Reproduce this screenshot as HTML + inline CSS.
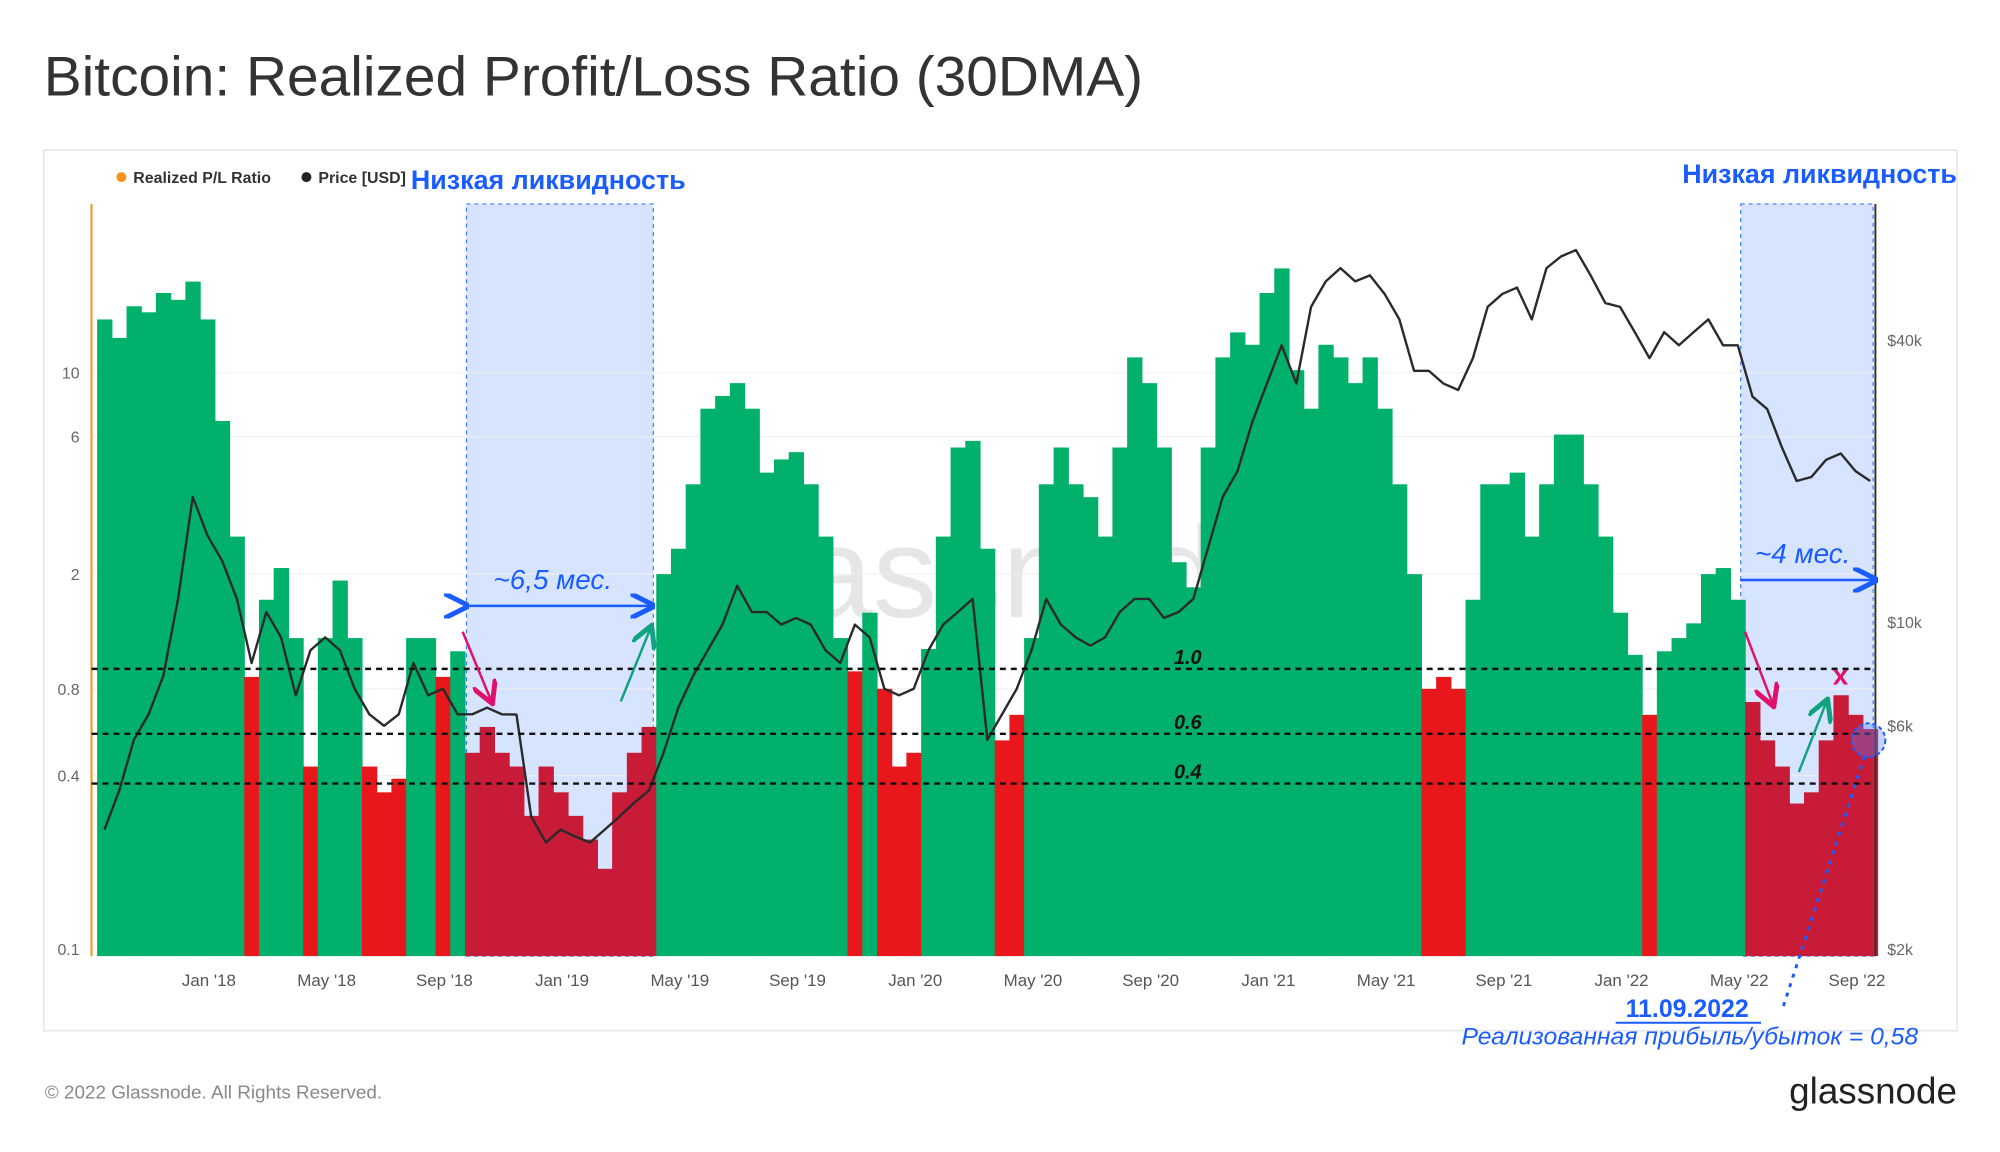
<!DOCTYPE html>
<html><head><meta charset="utf-8"><style>
body{margin:0;background:#fff;}
svg{display:block;font-family:"Liberation Sans","DejaVu Sans",sans-serif;}
</style></head><body>
<svg id="c" width="2000" height="1152" viewBox="0 0 2000 1152" xmlns="http://www.w3.org/2000/svg">
<g transform="scale(0.9949)">
<text x="44" y="96" font-size="56" fill="#333" textLength="1105" lengthAdjust="spacingAndGlyphs">Bitcoin: Realized Profit/Loss Ratio (30DMA)</text>
<rect x="44" y="151" width="1923" height="885" fill="#fff" stroke="#e6e6e6" stroke-width="1.5"/>
<text x="1000" y="620" font-size="130" fill="#e6e6e6" text-anchor="middle">glassnode</text>
<g id="shade"></g>
<g id="grid"></g>
<g id="bars"></g>
<g id="price"></g>
<g id="axes"></g>
<g id="ann"></g>
<g>
<circle cx="122" cy="178" r="5" fill="#f7931a"/>
<text x="134" y="184" font-size="16" font-weight="bold" fill="#333">Realized P/L Ratio</text>
<circle cx="308" cy="178" r="5" fill="#222"/>
<text x="320" y="184" font-size="16" font-weight="bold" fill="#333">Price [USD]</text>
</g>
<text x="413" y="190" font-size="27" font-weight="bold" fill="#1a5cff">Низкая ликвидность</text>
<text x="1967" y="184" font-size="27" font-weight="bold" fill="#1a5cff" text-anchor="end">Низкая ликвидность</text>
<text x="45" y="1104" font-size="19" fill="#888">© 2022 Glassnode. All Rights Reserved.</text>
<text x="1967" y="1109" font-size="37" fill="#222" text-anchor="end">glassnode</text>
</g>
</svg>
<script>
const ratio=[15.3,13.2,17,16.2,18.9,17.9,20.7,15.3,6.8,2.7,
0.88,1.63,2.1,1.2,0.43,1.2,1.9,1.2,0.43,0.35,
0.39,1.2,1.2,0.88,1.08,0.48,0.59,0.48,0.43,0.29,
0.43,0.35,0.29,0.24,0.19,0.35,0.48,0.59,2.0,2.45,
4.1,7.5,8.3,9.2,7.5,4.5,5.0,5.3,4.1,2.7,
1.2,0.92,1.47,0.8,0.43,0.48,1.1,2.7,5.5,5.8,
2.45,0.53,0.65,1.2,4.1,5.5,4.1,3.7,2.7,5.5,
11.3,9.2,5.5,2.2,1.8,5.5,11.3,13.8,12.5,18.9,
23,10.2,7.5,12.5,11.3,9.2,11.3,7.5,4.1,2.0,
0.8,0.88,0.8,1.63,4.1,4.1,4.5,2.7,4.1,6.1,
6.1,4.1,2.7,1.47,1.05,0.65,1.08,1.2,1.35,2.0,
2.1,1.63,0.72,0.53,0.43,0.32,0.35,0.53,0.76,0.65,
0.58];
const price=[3600,4360,5600,6350,7670,11200,18500,15300,13500,11200,
8170,10500,9270,6970,8700,9270,8700,7200,6350,6000,
6350,8170,6970,7200,6350,6350,6560,6350,6340,3840,
3380,3600,3480,3380,3600,3840,4110,4360,5260,6560,
7670,8700,9870,11950,10500,10500,9870,10200,9870,8700,
8170,9870,9270,7200,6970,7200,8700,9870,10500,11200,
5600,6350,7200,8700,11200,9870,9270,8900,9270,10500,
11200,11200,10200,10500,11200,14400,18500,21000,26700,32300,
39000,32300,47100,53400,57000,53400,55000,50200,44300,34400,
34400,32300,31300,36600,47100,50200,51800,44300,57000,60400,
62300,55000,48000,47100,41600,36600,41600,39000,41600,44300,
39000,39000,30300,28500,23600,20000,20400,22200,22900,21000,
20000];
const xLabels=["Jan '18","May '18","Sep '18","Jan '19","May '19","Sep '19","Jan '20","May '20","Sep '20","Jan '21","May '21","Sep '21","Jan '22","May '22","Sep '22"];
const xLabelMonths=[3.55,7.55,11.55,15.55,19.55,23.55,27.55,31.55,35.55,39.55,43.55,47.55,51.55,55.55,59.55];
const leftTicks=[0.1,0.4,0.8,2,6,10];
const leftTickLabels=["0.1","0.4","0.8","2","6","10"];
const rightTicks=[2000,6000,10000,40000];
const rightTickLabels=["$2k","$6k","$10k","$40k"];
const refLines=[1.0,0.6,0.4];
const refLabels=["1.0","0.6","0.4"];
const shadeLeft=[24.6,37.3], shadeRight=[111.2,120.2];

const NS="http://www.w3.org/2000/svg";
const X0=105, DX=14.79, BOT=961;
const xi=i=>X0+i*DX;
const xm=m=>X0+m*2*DX;
const yR=v=>954-Math.log10(v/0.1)*289.7;
const yP=p=>954-Math.log10(p/2000)*470.5;
function mk(tag,attrs,parent){const e=document.createElementNS(NS,tag);for(const k in attrs)e.setAttribute(k,attrs[k]);document.getElementById(parent).appendChild(e);return e;}

[shadeLeft,shadeRight].forEach((s,k)=>{
 const r=mk('rect',{x:xi(s[0]),y:205,width:xi(s[1])-xi(s[0]),height:BOT-205,fill:'#d6e4ff',stroke:'#3b7bff','stroke-width':1.2,'stroke-dasharray':'4 4'},'shade');
 
 
});
leftTicks.forEach((v,k)=>{
 const l=mk('line',{x1:92,x2:1885,y1:yR(v),y2:yR(v),stroke:'#efefef','stroke-width':1},'grid');
 
 
 const t=mk('text',{x:80,y:yR(v)+6,'font-size':16,fill:'#666','text-anchor':'end'},'axes');
 t.textContent=leftTickLabels[k];
 
 
});
rightTicks.forEach((p,k)=>{
 const t=mk('text',{x:1897,y:yP(p)+6,'font-size':16,fill:'#666'},'axes');
 t.textContent=rightTickLabels[k];
 
 
});
xLabels.forEach((s,k)=>{
 const t=mk('text',{x:xm(xLabelMonths[k]),y:991,'font-size':17,fill:'#555','text-anchor':'middle'},'axes');
 t.textContent=s;
 
 
});
ratio.forEach((v,i)=>{
 const inShade=(i>=shadeLeft[0]&&i<=shadeLeft[1])||(i>=shadeRight[0]&&i<=shadeRight[1]);
 const col=v>=1?'#00b06b':(inShade?'#c81b38':'#e8171b');
 const y=yR(v);
 const r=mk('rect',{x:xi(i)-DX/2,y:y,width:DX+0.6,height:BOT-y,fill:col},'bars');
 
 
});
const pl=mk('polyline',{points:price.map((p,i)=>xi(i)+','+yP(p)).join(' '),fill:'none',stroke:'#2a2a2a','stroke-width':2.4,'stroke-linejoin':'round'},'price');


const la=mk('line',{x1:92,x2:92,y1:205,y2:961,stroke:'#f7931a','stroke-width':2},'axes');


const ra=mk('line',{x1:1885,x2:1885,y1:205,y2:961,stroke:'#333','stroke-width':2},'axes');


refLines.forEach((v,k)=>{
 const y=yR(v)+(k===0?8:k===1?9:8);
 const l=mk('line',{x1:92,x2:1885,y1:y,y2:y,stroke:'#111','stroke-width':2.5,'stroke-dasharray':'6 5'},'ann');
 
 
 const t=mk('text',{x:1180,y:y-5,'font-size':20,'font-weight':'bold','font-style':'italic',fill:'#111'},'ann');
 t.textContent=refLabels[k];
 
 
});
</script>
<script>
(function(){
const g=document.getElementById('ann');
g.insertAdjacentHTML('beforeend',`
<defs><marker id="ab" markerWidth="10" markerHeight="10" refX="9" refY="5" orient="auto"><path d="M0,0 L10,5 L0,10" fill="none" stroke="#1a5cff" stroke-width="2"/></marker>
<marker id="ap" markerWidth="10" markerHeight="10" refX="8" refY="5" orient="auto"><path d="M0,0 L9,5 L0,10" fill="none" stroke="#e0106b" stroke-width="2"/></marker>
<marker id="ag" markerWidth="10" markerHeight="10" refX="8" refY="5" orient="auto"><path d="M0,0 L9,5 L0,10" fill="none" stroke="#11a37f" stroke-width="2"/></marker></defs>
<line x1="469" y1="609" x2="656" y2="609" stroke="#1a5cff" stroke-width="2.5" marker-end="url(#ab)" marker-start="url(#ab)"/>
<text x="496" y="592" font-size="28" font-style="italic" fill="#1a5cff">~6,5 мес.</text>
<line x1="1749" y1="583" x2="1885" y2="583" stroke="#1a5cff" stroke-width="2.5" marker-end="url(#ab)"/>
<text x="1764" y="566" font-size="28" font-style="italic" fill="#1a5cff">~4 мес.</text>
<line x1="465" y1="635" x2="494" y2="705" stroke="#e0106b" stroke-width="2.5" marker-end="url(#ap)"/>
<line x1="624" y1="705" x2="654" y2="631" stroke="#11a37f" stroke-width="2.5" marker-end="url(#ag)"/>
<line x1="1754" y1="635" x2="1782" y2="708" stroke="#e0106b" stroke-width="2.5" marker-end="url(#ap)"/>
<line x1="1808" y1="776" x2="1836" y2="705" stroke="#11a37f" stroke-width="2.5" marker-end="url(#ag)"/>
<text x="1850" y="688" font-size="28" font-weight="bold" fill="#e0106b" text-anchor="middle">x</text>
<circle cx="1878" cy="744" r="17" fill="rgba(90,130,255,0.35)" stroke="#1a5cff" stroke-width="2" stroke-dasharray="4 3"/>
<line x1="1874" y1="760" x2="1792" y2="1013" stroke="#1a5cff" stroke-width="3" stroke-dasharray="4 6"/>
<text x="1634" y="1022" font-size="25" font-weight="bold" fill="#1a5cff">11.09.2022</text>
<line x1="1624" y1="1028" x2="1770" y2="1028" stroke="#1a5cff" stroke-width="2"/>
<text x="1469" y="1050" font-size="24" font-style="italic" fill="#1a5cff" textLength="459" lengthAdjust="spacingAndGlyphs">Реализованная прибыль/убыток = 0,58</text>
`);
})();
</script>
</body></html>
